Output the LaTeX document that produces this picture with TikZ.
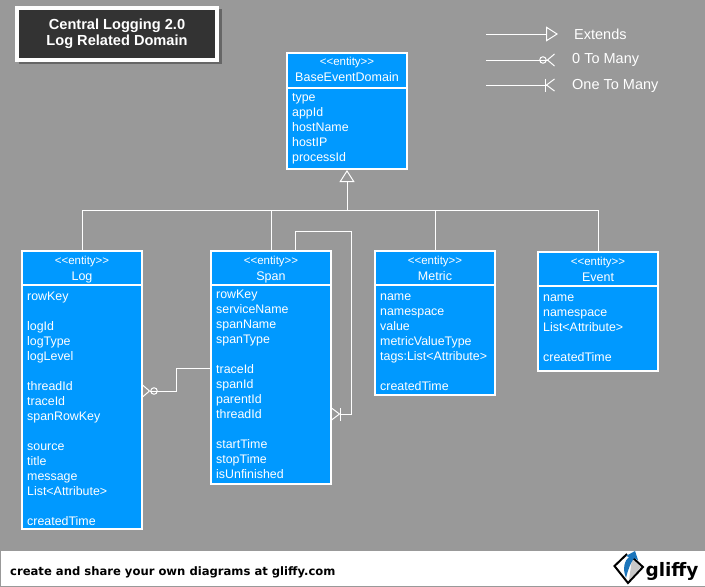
\documentclass[tikz,border=0pt]{standalone}
\usepackage{fontspec}
\setmainfont{Liberation Sans}
\newfontfamily\footfont{DejaVu Sans}
\usetikzlibrary{arrows.meta}
\definecolor{pagegray}{HTML}{999999}
\definecolor{entityblue}{HTML}{0099FF}
\definecolor{titledark}{HTML}{333333}
\definecolor{shadowgray}{HTML}{666666}
\definecolor{logoblue}{HTML}{1B75BB}
\definecolor{logogray}{HTML}{C8C8C8}
\begin{document}
\begin{tikzpicture}
[x=1pt,y=-1pt,
  lineDecorate/.style={white,line width=1pt},%
  extendsTip/.style={-{Triangle[open,length=12pt,width=15pt,line width=1pt]}},
  zeroManyTip/.style={-{Circle[open,length=7.5pt,width=7.5pt,line width=1pt,sep=0pt]Straight Barb[reversed,length=7pt,width=12pt,line width=1pt,sep=0pt]}},
  oneManyTip/.style={-{Bar[width=13pt,line width=1pt,sep=0pt]Straight Barb[reversed,length=8pt,width=12pt,line width=1pt,sep=0pt]}},
  boxDecorate/.style={draw=white,line width=2pt,fill=entityblue,anchor=north west,outer sep=0pt,
    minimum width=120pt,inner sep=0pt},
  headText/.style={text=white,anchor=north,inner sep=0pt,text width=120pt,align=center,font=\fontsize{12.5}{16}\selectfont},
  bodyText/.style={text=white,anchor=north west,inner sep=0pt,text width=110pt,align=left,font=\fontsize{12.4}{15}\selectfont},
  legendText/.style={text=white,anchor=west,inner sep=0pt,font=\fontsize{14.5}{16}\selectfont}]
\useasboundingbox (0,0) rectangle (705,587);
\fill[pagegray] (0,0) rectangle (705,587);
%% title
\fill[shadowgray] (19,9) rectangle (222,63.5);
\node (title) at (117,33.5) [draw=white,line width=4pt,fill=titledark,text=white,
  minimum width=200pt,minimum height=52pt,inner sep=0pt,align=center,
  font=\fontsize{14.6}{16}\selectfont\bfseries] {Central Logging 2.0\\Log Related Domain};
%% entities
\foreach \nodename/\x/\y/\headht/\bodyht/\headtop/\bodytop/\heading/\attrs in {
  base/287/53/35/81/1/3/BaseEventDomain/{type\\appId\\hostName\\hostIP\\processId},
  log/22/251/34/244/2/5/Log/{rowKey\\[15pt]logId\\logType\\logLevel\\[15pt]threadId\\traceId\\spanRowKey\\[15pt]source\\title\\message\\List<Attribute>\\[15pt]createdTime},
  span/211/251/34/199/2/3/Span/{rowKey\\serviceName\\spanName\\spanType\\[15pt]traceId\\spanId\\parentId\\threadId\\[15pt]startTime\\stopTime\\isUnfinished},
  metric/375/251/34/110/2/5/Metric/{name\\namespace\\value\\metricValueType\\tags:List<Attribute>\\[15pt]createdTime},
  event/538/252/34/85/2/5/Event/{name\\namespace\\List<Attribute>\\[15pt]createdTime}}
{
  \node (\nodename) at (\x,\y) [boxDecorate,minimum height=\headht pt] {};
  \node (\nodename-body) at (\nodename.south west) [boxDecorate,minimum height=\bodyht pt] {};
  \node (\nodename-title) at ([yshift=-\headtop pt]\nodename.north) [headText] {{\fontsize{11.5}{16}\selectfont\strut <{}<entity>{}>}\\\heading};
  \node (\nodename-attrs) at ([xshift=5pt,yshift=-\bodytop pt]\nodename-body.north west) [bodyText] {\strut\attrs};
}
%% generalisation lines
\coordinate (fork) at (347,210);
\draw[lineDecorate,extendsTip] (base-body.south |- fork) -- ([yshift=-1pt]base-body.south);
\foreach \childname in {log,span,metric,event}
{
  \draw[lineDecorate] (\childname.north) |- (fork);
}
%% associations
\draw[lineDecorate,zeroManyTip] ([yshift=-83pt]span-body.north west) -- ++(-35,0) |- ([yshift=-106pt]log-body.north east);
\draw[lineDecorate,oneManyTip] ([xshift=24pt]span.north) -- ++(0,-20) -- ++(56,0) |- ([yshift=-129pt]span-body.north east);
%% legend
\coordinate (extendsStart) at (486,34);
\coordinate (extendsEnd) at (558,34);
\coordinate (zeroStart) at (486,60);
\coordinate (zeroEnd) at (555,60);
\coordinate (oneStart) at (486,85);
\coordinate (oneEnd) at (555,85);
\draw[lineDecorate,extendsTip] (extendsStart) -- (extendsEnd);
\draw[lineDecorate,zeroManyTip] (zeroStart) -- (zeroEnd);
\draw[lineDecorate,oneManyTip] (oneStart) -- (oneEnd);
\node (extendsLabel) at (574,34) [legendText] {Extends};
\node (zeroLabel) at (572,59.5) [legendText] {0 To Many};
\node (oneLabel) at (572,85.5) [legendText] {One To Many};
%% footer
\fill[white] (1,551) rectangle (705,586);
\node (footer) at (10,572.5) [anchor=west,inner sep=0pt,font=\footfont\bfseries\fontsize{11.6}{13}\selectfont] {create and share your own diagrams at gliffy.com};
\node (gliffy) at (672,571) [inner sep=0pt,font=\footfont\bfseries\fontsize{18.5}{20}\selectfont] {gliffy};
\fill[logogray] (629,580) -- (641,567) -- (632,559) -- cycle;
\draw[black,line width=2pt] (627,554) -- (614.5,566) -- (628,583) -- (643,567) -- (633,558);
\fill[logoblue] (626,578) .. controls (622,568) and (625,560) .. (629,557) -- (626,556) -- (635,551) -- (638,560) -- (634,558) .. controls (630,564) and (628,570) .. (626,578) -- cycle;
\end{tikzpicture}
\end{document}
